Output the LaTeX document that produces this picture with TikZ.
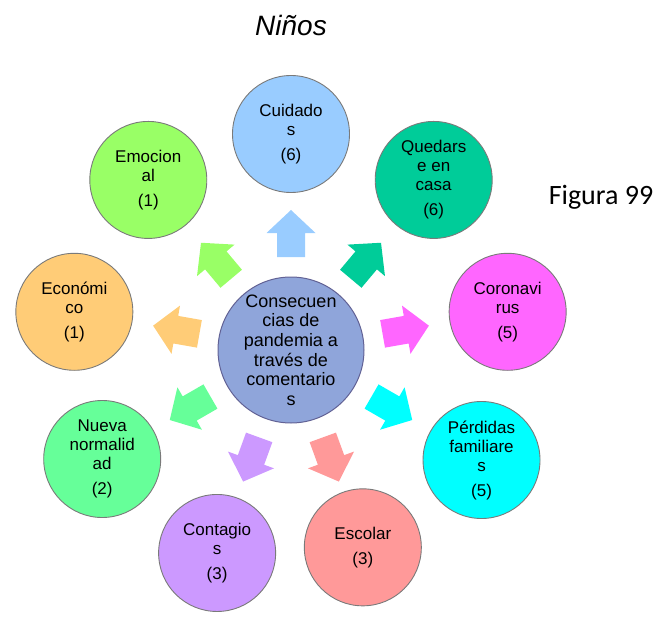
\documentclass[tikz,border=0pt]{standalone}
\usepackage{fontspec}
\setmainfont{Liberation Sans}
\newfontfamily\figfont{Carlito}
\definecolor{cCui}{HTML}{99CCFF}
\definecolor{cQue}{HTML}{00CC99}
\definecolor{cCor}{HTML}{FF66FF}
\definecolor{cPer}{HTML}{00FFFF}
\definecolor{cEsc}{HTML}{FF9999}
\definecolor{cCon}{HTML}{CC99FF}
\definecolor{cNue}{HTML}{66FF99}
\definecolor{cEco}{HTML}{FFCC77}
\definecolor{cEmo}{HTML}{99FF66}
\definecolor{cCen}{HTML}{8FA5DA}
\definecolor{cBor}{HTML}{7A7A7A}
\tikzset{
  outer/.style={circle, draw=cBor, line width=0.9pt, minimum size=117pt, inner sep=0pt,
    align=center, font=\fontsize{17}{19}\selectfont},
  center/.style={circle, draw=cBor!80!blue, line width=1pt, minimum size=146pt, inner sep=0pt,
    align=center, fill=cCen, font=\fontsize{18}{19.6}\selectfont}
}
\newcommand{\blockarr}[2]{%
  \fill[#2, rotate=#1] (93,-14) -- (117,-14) -- (117,-24.5) -- (140,0)
    -- (117,24.5) -- (117,14) -- (93,14) -- cycle;}
\begin{document}
\begin{tikzpicture}[x=1pt,y=1pt]
\useasboundingbox (-291,-266) rectangle (380,350);
\node[center] (c) at (0,0) {Consecuen\\cias de\\pandemia a\\través de\\comentario\\s};
% outer circles
\node[outer, fill=cCui] (cui) at (90:216) {Cuidado\\s\\[6pt](6)};
\node[outer, fill=cQue] (que) at (50:222) {Quedars\\e en\\casa\\[6pt](6)};
\node[outer, fill=cCor] (cor) at (10:220) {Coronavi\\rus\\[6pt](5)};
\node[outer, fill=cPer] (per) at (-30:220) {Pérdidas\\familiare\\s\\[6pt](5)};
\node[outer, fill=cEsc] (esc) at (-70:210) {Escolar\\[6pt](3)};
\node[outer, fill=cCon] (con) at (-110:216) {Contagio\\s\\[6pt](3)};
\node[outer, fill=cNue] (nue) at (-150:218) {Nueva\\normalid\\ad\\[6pt](2)};
\node[outer, fill=cEco] (eco) at (170:220) {Económi\\co\\[6pt](1)};
\node[outer, fill=cEmo] (emo) at (130:222) {Emocion\\al\\[6pt](1)};
% block arrows from centre toward each circle
\blockarr{90}{cCui}
\blockarr{50}{cQue}
\blockarr{10}{cCor}
\blockarr{-30}{cPer}
\blockarr{-70}{cEsc}
\blockarr{-110}{cCon}
\blockarr{-150}{cNue}
\blockarr{170}{cEco}
\blockarr{130}{cEmo}
% titles
\node[font=\fontsize{28}{30}\selectfont\itshape] (title) at (0,325) {Niños};
\node[font=\figfont\fontsize{28}{32}\selectfont] (fig) at (310,153) {Figura 99};
\end{tikzpicture}
\end{document}
